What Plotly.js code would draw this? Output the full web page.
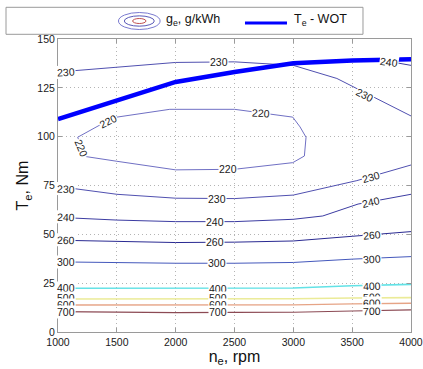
<!DOCTYPE html>
<html>
<head>
<meta charset="utf-8">
<script src="https://cdn.plot.ly/plotly-3.0.1.min.js"></script>
<style>
  html, body { margin: 0; padding: 0; background: #fff; }
  #chart { width: 423px; height: 369px; }
</style>
</head>
<body>
<div id="chart"></div>
<script>
// Specific fuel consumption map: iso-lines of g_e (g/kWh) over speed and torque,
// plus the wide-open-throttle torque curve.

// Wide-open-throttle torque curve
const rpmWOT = [1000, 1500, 2000, 2500, 3000, 3500, 4000];
const tqWOT  = [109, 118.6, 128, 133.1, 137.6, 139, 139.6];

// Iso-consumption lines (speed in rpm, torque in Nm)
const rpm220 = [1167, 1357, 1500, 1950, 2500, 2800, 2995, 3057, 3108, 3094, 2995, 2500, 2000, 1500, 1238, 1167];
const tq220  = [99.7, 106, 110, 114, 114, 111.5, 110, 105, 99.7, 90.1, 86.7, 83.3, 83, 87.4, 89.8, 99.7];

const rpm230top = [1000, 1500, 2000, 2500, 3000, 3370, 4000];
const tq230top  = [133.1, 135.6, 138, 138.3, 136.5, 129.8, 110.6];

const rpm240top = [3720, 3850, 4000];
const tq240top  = [139.5, 138.2, 136.5];

const rpm230 = [1000, 1500, 2000, 2500, 3000, 3540, 4000];
const tq230  = [74.5, 70.5, 68.5, 68.3, 70.1, 77.5, 85.5];

const rpm240 = [1000, 1500, 2000, 2500, 3000, 3250, 3550, 4000];
const tq240  = [58.7, 57.3, 56.5, 56.5, 57.7, 59.4, 65.5, 70.5];

const rpmLow = [1000, 1500, 2000, 2500, 3000, 3500, 4000];
const tq260  = [47, 46.5, 45.8, 46, 46.6, 49, 51.4];
const tq300  = [35.9, 35.5, 35.2, 35.2, 35.6, 37.3, 38.6];
const tq400  = [22.4, 22.4, 22.4, 22.4, 22.5, 23.7, 24.4];
const tq500  = [16.9, 16.9, 16.9, 16.9, 17, 17.4, 17.6];
const tq600  = [13.8, 13.8, 13.8, 13.8, 13.9, 14.4, 14.7];
const tq700  = [10.4, 10.0, 9.9, 10.0, 10.1, 10.75, 11.3];

// Inline contour labels: level value and where it sits on its line
const labelLevel = [230, 230, 230, 240, 220, 220, 220, 220,
                    230, 230, 230, 240, 240, 240, 260, 260, 260,
                    300, 300, 300, 400, 400, 400, 500, 500, 500,
                    600, 600, 600, 700, 700, 700];
const labelRpm = [1065, 2364, 3609, 3813, 1428, 1196, 2725, 2448,
                  1065, 2349, 3658, 1065, 2334, 3658, 1065, 2334, 3666,
                  1065, 2355, 3666, 1065, 2363, 3666, 1065, 2363, 3666,
                  1065, 2363, 3666, 1065, 2363, 3666];
const labelTq = [133.3, 138, 121.5, 138.1, 108.2, 94, 112, 83.2,
                 73.2, 68.1, 79.5, 58.7, 56.5, 66.4, 47, 46, 49.7,
                 35.9, 35.1, 37.4, 22.4, 22.2, 23.7, 17.2, 17.2, 17.9,
                 13.8, 13.8, 14.6, 10.0, 10.1, 10.6];
const labelAngle = [-3, 0, 27, 8, -27, 67, 3, 0,
                    3, 0, -16, 2, 0, -13, 1, 0, -5,
                    0, 0, -3, 0, 0, -2, 0, 0, -1,
                    0, 0, -1, 0, 0, -1];

const levelColor = {
  220: '#7070c4', 230: '#5050b0', 240: '#3c3ca2', 260: '#2a2a92',
  300: '#4458bc', 400: '#62e2e6', 500: '#ebeb98', 600: '#e6a486', 700: '#8c4a54'
};

function iso(x, y, level, w) {
  return {
    type: 'scatter', mode: 'lines', x: x, y: y, showlegend: false,
    hoverinfo: 'skip',
    line: { color: levelColor[level], width: w || 1 }
  };
}

const traces = [
  iso(rpm220, tq220, 220),
  iso(rpm230top, tq230top, 230),
  iso(rpm240top, tq240top, 240),
  iso(rpm230, tq230, 230),
  iso(rpm240, tq240, 240),
  iso(rpmLow, tq260, 260),
  iso(rpmLow, tq300, 300),
  iso(rpmLow, tq400, 400, 1.6),
  iso(rpmLow, tq500, 500, 1.6),
  iso(rpmLow, tq600, 600, 1.4),
  iso(rpmLow, tq700, 700, 1.2),
  {
    type: 'scatter', mode: 'lines', x: rpmWOT, y: tqWOT, showlegend: false,
    line: { color: '#0000ff', width: 4.5 }
  }
];

const FONT = 'Liberation Sans, Arial, Helvetica, sans-serif';

const annotations = labelLevel.map((lv, i) => ({
  x: labelRpm[i], y: labelTq[i], xref: 'x', yref: 'y',
  text: String(lv), showarrow: false,
  textangle: labelAngle[i],
  font: { family: FONT, size: 10.5, color: '#1a1a1a' },
  bgcolor: '#ffffff', borderpad: 0
}));

// Legend: box, contour symbol, WOT line sample, texts (paper coordinates)
const legendTexts = [
  { x: 0.300, y: 1.066, text: 'g<sub>e</sub>, g/kWh' },
  { x: 0.664, y: 1.066, text: 'T<sub>e</sub> - WOT' }
];
legendTexts.forEach(t => annotations.push({
  x: t.x, y: t.y, xref: 'paper', yref: 'paper', xanchor: 'left', yanchor: 'middle',
  text: t.text, showarrow: false,
  font: { family: FONT, size: 12.5, color: '#111' }
}));

const ellipse = (cx, cy, rx, ry, color) => ({
  type: 'circle', xref: 'paper', yref: 'paper',
  x0: cx - rx, x1: cx + rx, y0: cy - ry, y1: cy + ry,
  line: { color: color, width: 1 }
});

const shapes = [
  {
    type: 'rect', xref: 'paper', yref: 'paper',
    x0: -0.1473, x1: 0.864, y0: 1.0160, y1: 1.1082,
    line: { color: '#9a9a9a', width: 1 }, fillcolor: '#ffffff'
  },
  ellipse(0.2303, 1.0614, 0.0590, 0.0290, '#7a7ad0'),
  ellipse(0.2303, 1.0614, 0.0425, 0.0176, '#5a5ab8'),
  ellipse(0.2303, 1.0614, 0.0189, 0.0085, '#c05050'),
  {
    type: 'line', xref: 'paper', yref: 'paper',
    x0: 0.5297, x1: 0.6487, y0: 1.0546, y1: 1.0546,
    line: { color: '#0000ff', width: 3 }
  }
];

const axisCommon = {
  showline: true, linecolor: '#9a9a9a', linewidth: 1, mirror: 'ticks',
  ticks: 'inside', ticklen: 4, tickcolor: '#9a9a9a',
  showgrid: true, gridcolor: '#b4b4b4', griddash: '1px,3px', gridwidth: 1,
  zeroline: false, ticklabeloverflow: 'allow',
  tickfont: { family: FONT, size: 10.5, color: '#1a1a1a' }
};

const layout = {
  width: 423, height: 369,
  margin: { l: 58, r: 12, t: 39, b: 37, pad: 0 },
  paper_bgcolor: '#ffffff', plot_bgcolor: '#ffffff',
  showlegend: false,
  font: { family: FONT },
  xaxis: Object.assign({}, axisCommon, {
    range: [1000, 4000], tickvals: [1000, 1500, 2000, 2500, 3000, 3500, 4000],
    title: { text: 'n<sub>e</sub>, rpm', font: { family: FONT, size: 16, color: '#111' }, standoff: 2 }
  }),
  yaxis: Object.assign({}, axisCommon, {
    range: [0, 150], tickvals: [0, 25, 50, 75, 100, 125, 150],
    title: { text: 'T<sub>e</sub>, Nm', font: { family: FONT, size: 16, color: '#111' }, standoff: 4 }
  }),
  shapes: shapes,
  annotations: annotations
};

Plotly.newPlot('chart', traces, layout, { displayModeBar: false, staticPlot: true });
</script>
</body>
</html>
